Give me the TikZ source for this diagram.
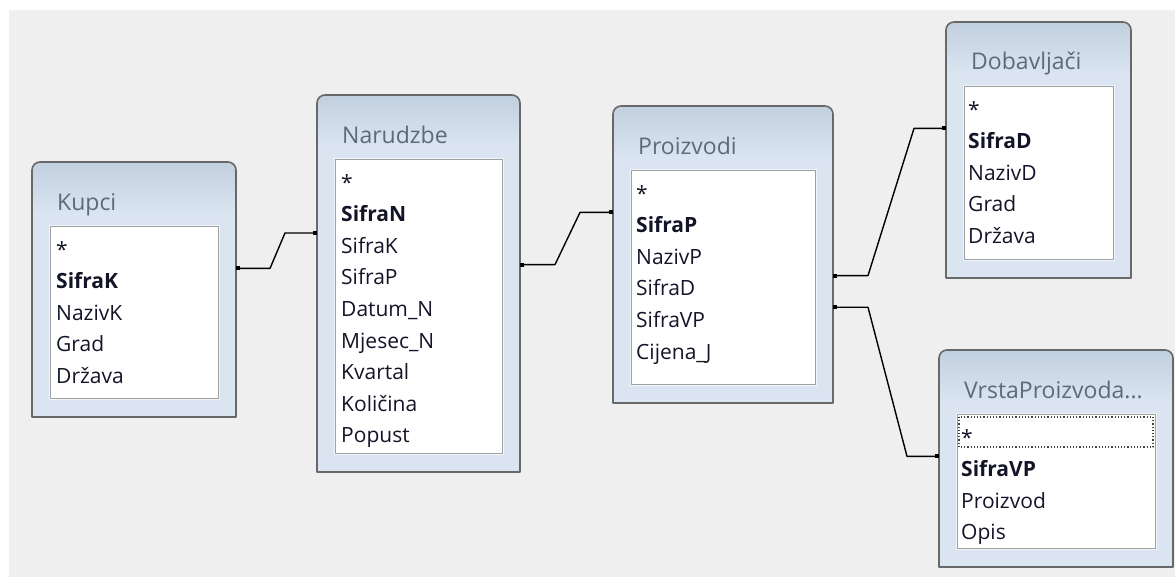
\documentclass[tikz,border=0pt]{standalone}
\usepackage{fontspec}
\setmainfont{Open Sans}
\usetikzlibrary{arrows.meta}

\definecolor{bgcol}{RGB}{239,239,239}
\definecolor{boxbody}{RGB}{218,229,241}
\definecolor{hdtop}{RGB}{194,207,222}
\definecolor{framecol}{RGB}{104,104,104}
\definecolor{listline}{RGB}{160,160,160}
\definecolor{ttlcol}{RGB}{95,105,125}
\definecolor{fieldcol}{RGB}{20,20,40}

\tikzset{
  tbl/.style={anchor=north west,inner sep=0pt,outer sep=0pt},
  ttl/.style={anchor=base west,inner sep=0pt,text=ttlcol,font=\fontsize{23}{23}\selectfont},
  field/.style={anchor=base west,inner sep=0pt,text height=20pt,text depth=5pt,text=fieldcol,font=\fontsize{21}{21}\selectfont},
  frame/.style={draw=framecol,line width=1.6pt},
  list/.style={fill=white,draw=listline,line width=1pt},
  link/.style={line width=1.4pt,{Square[length=4pt,width=4pt]}-{Square[length=4pt,width=4pt]}}
}

\begin{document}
\begin{tikzpicture}[x=1pt,y=-1pt,line join=round]
  \useasboundingbox (0,0) rectangle (1175,578);
  \fill[white] (0,0) rectangle (1175,578);
  \fill[bgcol] (9,10) rectangle (1175,577);

  % tables
  \node[tbl,minimum width=204pt,minimum height=255pt] (kupci) at (32,162) {};
  \node[tbl,minimum width=203pt,minimum height=377pt] (narudzbe) at (317,95) {};
  \node[tbl,minimum width=220pt,minimum height=297pt] (proizvodi) at (613,106) {};
  \node[tbl,minimum width=185pt,minimum height=256pt] (dobavljaci) at (946,22) {};
  \node[tbl,minimum width=234pt,minimum height=217pt] (vrsta) at (939,350) {};

  \foreach \t/\n in {kupci/Kupci,narudzbe/Narudzbe,proizvodi/Proizvodi,dobavljaci/Dobavljači,vrsta/VrstaProizvoda.{}.{}.}{
    \fill[boxbody] (\t.south west) -- ([yshift=-8pt]\t.north west) arc[start angle=180,end angle=90,radius=8pt]
      -- ([xshift=-8pt]\t.north east) arc[start angle=90,end angle=0,radius=8pt] -- (\t.south east) -- cycle;
    \shade[top color=hdtop,bottom color=boxbody] ([yshift=-52pt]\t.north west) -- ([yshift=-8pt]\t.north west)
      arc[start angle=180,end angle=90,radius=8pt] -- ([xshift=-8pt]\t.north east)
      arc[start angle=90,end angle=0,radius=8pt] -- ([yshift=-52pt]\t.north east) -- cycle;
    \draw[frame] (\t.south west) -- ([yshift=-8pt]\t.north west) arc[start angle=180,end angle=90,radius=8pt]
      -- ([xshift=-8pt]\t.north east) arc[start angle=90,end angle=0,radius=8pt] -- (\t.south east) -- cycle;
    \draw[white!60!boxbody,line width=1pt] ([shift={(17,63)}]\t.north west) rectangle ([shift={(-17,-18)}]\t.south east);
    \draw[list] ([shift={(18,64)}]\t.north west) rectangle ([shift={(-18,-19)}]\t.south east);
    \node[ttl] (\t-title) at ([shift={(25,48)}]\t.north west) {\n};
  }

  % fields
  \foreach \f [count=\i from 0] in {*,\textbf{SifraK},NazivK,Grad,Država}
    \node[field] (kupci-\i) at ([shift={(24,95+31.6*\i)}]kupci.north west) {\f};
  \foreach \f [count=\i from 0] in {*,\textbf{SifraN},SifraK,SifraP,Datum\_N,Mjesec\_N,Kvartal,Količina,Popust}
    \node[field] (narudzbe-\i) at ([shift={(24,95+31.6*\i)}]narudzbe.north west) {\f};
  \foreach \f [count=\i from 0] in {*,\textbf{SifraP},NazivP,SifraD,SifraVP,Cijena\_J}
    \node[field] (proizvodi-\i) at ([shift={(23,95+31.6*\i)}]proizvodi.north west) {\f};
  \foreach \f [count=\i from 0] in {*,\textbf{SifraD},NazivD,Grad,Država}
    \node[field] (dobavljaci-\i) at ([shift={(22,95+31.6*\i)}]dobavljaci.north west) {\f};
  \foreach \f [count=\i from 0] in {*,\textbf{SifraVP},Proizvod,Opis}
    \node[field] (vrsta-\i) at ([shift={(22,95+31.6*\i)}]vrsta.north west) {\f};
  \draw[dotted,line width=1.2pt,black!75] ([shift={(20,67)}]vrsta.north west) rectangle ([shift={(-20,97)}]vrsta.north east);

  % joins
  \draw[link] (kupci.east |- kupci-1.north) -- ++(34,0)
    -- ([xshift=-32pt]narudzbe.west |- narudzbe-2.north) -- (narudzbe.west |- narudzbe-2.north);
  \draw[link] (narudzbe.east |- narudzbe-3.north) -- ++(35,0)
    -- ([xshift=-33pt]proizvodi.west |- proizvodi-1.north) -- (proizvodi.west |- proizvodi-1.north);
  \draw[link] (proizvodi.east |- proizvodi-3.north) -- ++(35,0)
    -- ([xshift=-32pt]dobavljaci.west |- dobavljaci-1.north) -- (dobavljaci.west |- dobavljaci-1.north);
  \draw[link] (proizvodi.east |- proizvodi-4.north) -- ++(35,0)
    -- ([xshift=-32pt]vrsta.west |- vrsta-1.north) -- (vrsta.west |- vrsta-1.north);
\end{tikzpicture}
\end{document}
